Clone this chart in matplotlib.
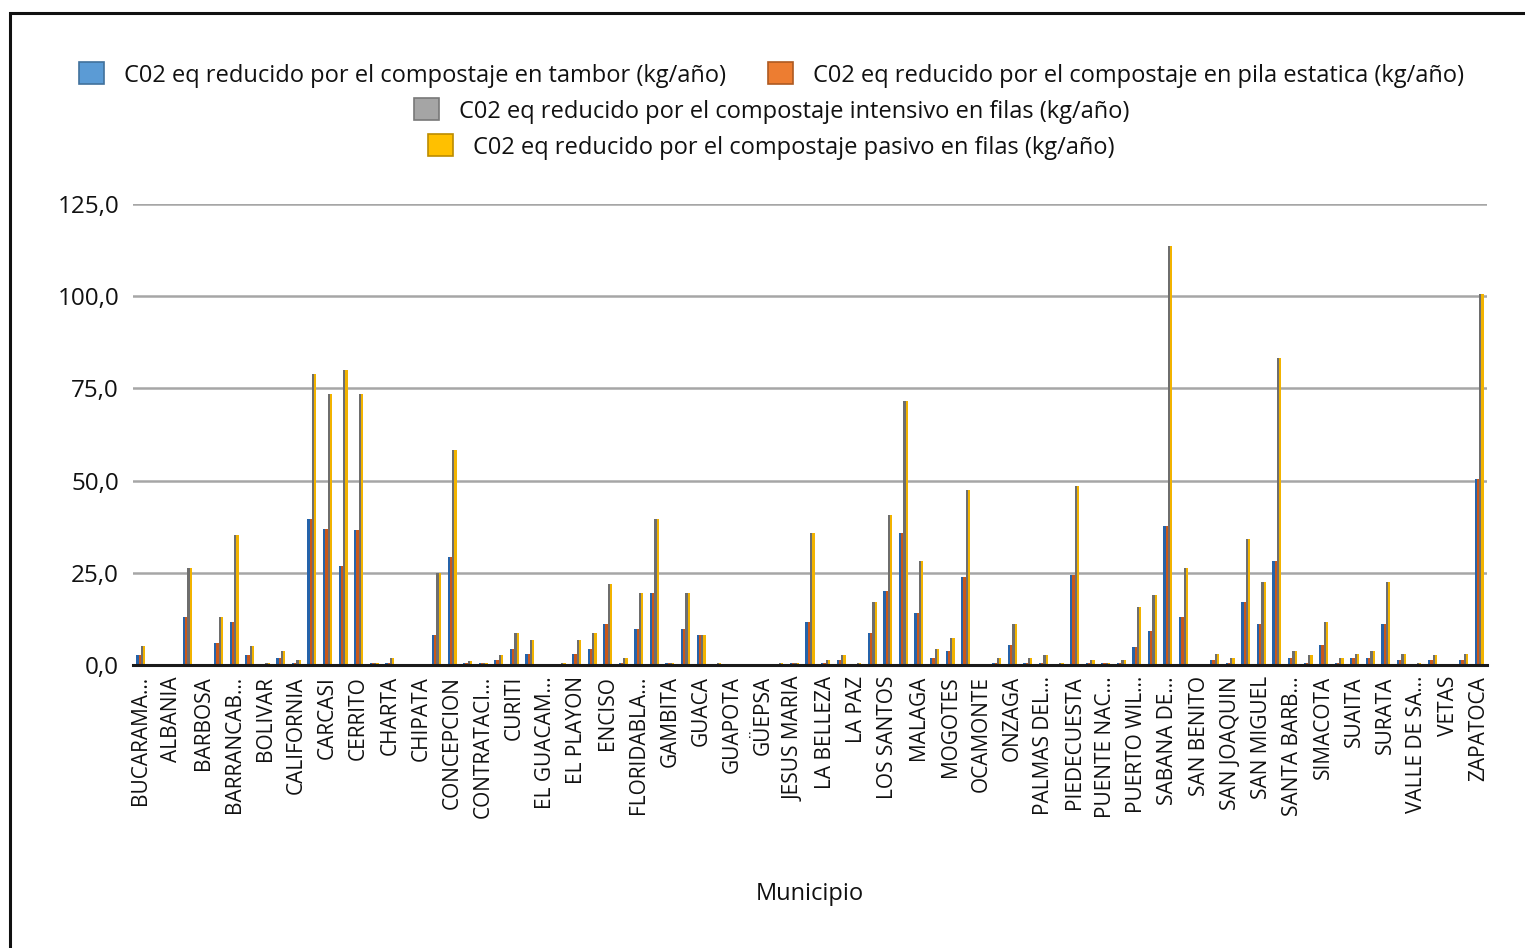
import matplotlib
matplotlib.use("Agg")
import matplotlib.pyplot as plt
from matplotlib.patches import Patch, Rectangle
from matplotlib.ticker import FuncFormatter, MultipleLocator
import numpy as np

# Municipios de Santander (orden del eje)
municipios = [
    "BUCARAMANGA", "AGUADA", "ALBANIA", "ARATOCA", "BARBOSA", "BARICHARA",
    "BARRANCABERMEJA", "BETULIA", "BOLIVAR", "CABRERA", "CALIFORNIA",
    "CAPITANEJO", "CARCASI", "CEPITA", "CERRITO", "CHARALA", "CHARTA", "CHIMA",
    "CHIPATA", "CIMITARRA", "CONCEPCION", "CONFINES", "CONTRATACION",
    "COROMORO", "CURITI", "EL CARMEN DE CHUCURI", "EL GUACAMAYO", "EL PEÑON",
    "EL PLAYON", "ENCINO", "ENCISO", "FLORIAN", "FLORIDABLANCA", "GALAN",
    "GAMBITA", "GIRON", "GUACA", "GUADALUPE", "GUAPOTA", "GUAVATA", "GÜEPSA",
    "HATO", "JESUS MARIA", "JORDAN", "LA BELLEZA", "LANDAZURI", "LA PAZ",
    "LEBRIJA", "LOS SANTOS", "MACARAVITA", "MALAGA", "MATANZA", "MOGOTES",
    "MOLAGAVITA", "OCAMONTE", "OIBA", "ONZAGA", "PALMAR", "PALMAS DEL SOCORRO",
    "PARAMO", "PIEDECUESTA", "PINCHOTE", "PUENTE NACIONAL", "PUERTO PARRA",
    "PUERTO WILCHES", "RIONEGRO", "SABANA DE TORRES", "SAN ANDRES",
    "SAN BENITO", "SAN GIL", "SAN JOAQUIN", "SAN JOSE DE MIRANDA", "SAN MIGUEL",
    "SAN VICENTE DE CHUCURI", "SANTA BARBARA", "SANTA HELENA DEL OPON",
    "SIMACOTA", "SOCORRO", "SUAITA", "SUCRE", "SURATA", "TONA",
    "VALLE DE SAN JOSE", "VELEZ", "VETAS", "VILLANUEVA", "ZAPATOCA",
]

# Etiquetas visibles del eje (una de cada dos categorias)
etiquetas_eje = [
    "BUCARAMA...", "ALBANIA", "BARBOSA", "BARRANCAB...", "BOLIVAR",
    "CALIFORNIA", "CARCASI", "CERRITO", "CHARTA", "CHIPATA", "CONCEPCION",
    "CONTRATACI...", "CURITI", "EL GUACAM...", "EL PLAYON", "ENCISO",
    "FLORIDABLA...", "GAMBITA", "GUACA", "GUAPOTA", "GÜEPSA", "JESUS MARIA",
    "LA BELLEZA", "LA PAZ", "LOS SANTOS", "MALAGA", "MOGOTES", "OCAMONTE",
    "ONZAGA", "PALMAS DEL...", "PIEDECUESTA", "PUENTE NAC...", "PUERTO WIL...",
    "SABANA DE...", "SAN BENITO", "SAN JOAQUIN", "SAN MIGUEL", "SANTA BARB...",
    "SIMACOTA", "SUAITA", "SURATA", "VALLE DE SA...", "VETAS", "ZAPATOCA",
]

# CO2 eq reducido (kg/año) por tipo de compostaje
tambor = [
    2.6, 0, 0, 12.9, 0, 6.1, 11.6, 2.6, 0, 1.9, 0.6, 39.5, 37.0, 26.8, 36.5,
    0.6, 0.6, 0, 0, 8.0, 29.3, 0.6, 0.6, 1.3, 4.3, 3.1, 0, 0, 3.1, 4.3, 11.0,
    0.6, 9.8, 19.6, 0.6, 9.8, 8.0, 0, 0, 0, 0, 0, 0.6, 11.6, 0.6, 1.3, 0, 8.6,
    20.1, 35.9, 14.0, 1.9, 3.7, 23.8, 0, 0.6, 5.5, 0.6, 0.6, 0, 24.4, 0.6, 0.6,
    0.6, 5.0, 9.2, 37.7, 12.9, 0, 1.3, 0.6, 17.1, 11.0, 28.2, 1.9, 0.6, 5.5,
    0.6, 1.9, 1.9, 11.0, 1.3, 0, 1.3, 0, 1.3, 50.4,
]
pila_estatica = [
    2.6, 0, 0, 12.9, 0, 6.1, 11.6, 2.6, 0, 1.9, 0.6, 39.5, 37.0, 26.8, 36.5,
    0.6, 0.6, 0, 0, 8.0, 29.3, 0.6, 0.6, 1.3, 4.3, 3.1, 0, 0, 3.1, 4.3, 11.0,
    0.6, 9.8, 19.6, 0.6, 9.8, 8.0, 0, 0, 0, 0, 0, 0.6, 11.6, 0.6, 1.3, 0, 8.6,
    20.1, 35.9, 14.0, 1.9, 3.7, 23.8, 0, 0.6, 5.5, 0.6, 0.6, 0, 24.4, 0.6, 0.6,
    0.6, 5.0, 9.2, 37.7, 12.9, 0, 1.3, 0.6, 17.1, 11.0, 28.2, 1.9, 0.6, 5.5,
    0.6, 1.9, 1.9, 11.0, 1.3, 0, 1.3, 0, 1.3, 50.4,
]
intensivo_filas = [
    5.1, 0, 0, 26.3, 0, 12.9, 35.3, 5.1, 0.6, 3.8, 1.3, 78.9, 73.4, 80.1, 73.4,
    0.6, 1.9, 0, 0, 25.0, 58.3, 1.2, 0.6, 2.6, 8.6, 6.8, 0, 0.6, 6.8, 8.6, 22.0,
    1.9, 19.6, 39.5, 0.6, 19.6, 8.0, 0.6, 0, 0, 0, 0.6, 0.6, 35.9, 1.3, 2.6,
    0.6, 17.1, 40.7, 71.6, 28.1, 4.3, 7.4, 47.4, 0, 1.9, 11.0, 1.9, 2.6, 0.6,
    48.6, 1.3, 0.6, 1.3, 15.8, 18.9, 113.6, 26.3, 0, 3.1, 1.9, 34.1, 22.6,
    83.3, 3.8, 2.6, 11.7, 1.9, 3.1, 3.8, 22.6, 3.1, 0.6, 2.6, 0, 3.1, 100.7,
]
pasivo_filas = [
    5.1, 0, 0, 26.3, 0, 12.9, 35.3, 5.1, 0.6, 3.8, 1.3, 78.9, 73.4, 80.1, 73.4,
    0.6, 1.9, 0, 0, 25.0, 58.3, 1.2, 0.6, 2.6, 8.6, 6.8, 0, 0.6, 6.8, 8.6, 22.0,
    1.9, 19.6, 39.5, 0.6, 19.6, 8.0, 0.6, 0, 0, 0, 0.6, 0.6, 35.9, 1.3, 2.6,
    0.6, 17.1, 40.7, 71.6, 28.1, 4.3, 7.4, 47.4, 0, 1.9, 11.0, 1.9, 2.6, 0.6,
    48.6, 1.3, 0.6, 1.3, 15.8, 18.9, 113.6, 26.3, 0, 3.1, 1.9, 34.1, 22.6,
    83.3, 3.8, 2.6, 11.7, 1.9, 3.1, 3.8, 22.6, 3.1, 0.6, 2.6, 0, 3.1, 100.7,
]

series_nombres = [
    "C02 eq reducido por el compostaje en tambor (kg/año)",
    "C02 eq reducido por el compostaje en pila estatica (kg/año)",
    "C02 eq reducido por el compostaje intensivo en filas (kg/año)",
    "C02 eq reducido por el compostaje pasivo en filas (kg/año)",
]
colores_barra = ["#2563AA", "#C9581A", "#6E6E6E", "#F2B300"]
colores_leyenda = ["#5B9BD5", "#ED7D31", "#A5A5A5", "#FFC000"]
bordes_leyenda = ["#41719C", "#AE5A21", "#787878", "#BC8C00"]

plt.rcParams["font.family"] = ["Open Sans", "DejaVu Sans"]

W, H = 1525, 948
fig = plt.figure(figsize=(W / 100, H / 100), dpi=100)
ax = fig.add_axes([133 / W, 1 - 665 / H, (1487 - 133) / W, (665 - 204) / H])

x = np.arange(len(municipios))
ancho = 0.145
valores = [tambor, pila_estatica, intensivo_filas, pasivo_filas]
for k, (vals, col) in enumerate(zip(valores, colores_barra)):
    ax.bar(x + (k - 1.5) * ancho, vals, width=ancho, color=col,
           linewidth=0, zorder=3)

ax.set_xlim(-0.5, len(municipios) - 0.5)
ax.set_ylim(0, 125)
ax.yaxis.set_major_locator(MultipleLocator(25))
ax.yaxis.set_major_formatter(
    FuncFormatter(lambda v, _: f"{v:.1f}".replace(".", ",")))
ax.grid(axis="y", color="#A6A6A6", linewidth=1.8, zorder=0)
ax.set_axisbelow(True)

for s in ("top", "right", "left"):
    ax.spines[s].set_visible(False)
ax.spines["bottom"].set_color("#1A1A1A")
ax.spines["bottom"].set_linewidth(2.2)
ax.spines["bottom"].set_zorder(4)

ax.set_xticks(x[::2])
ax.set_xticklabels(etiquetas_eje, rotation=90, fontsize=15,
                   color="#111111", va="top", ha="center")
ax.tick_params(axis="x", length=0, pad=8)
ax.tick_params(axis="y", length=0, pad=10, labelsize=17.5,
               labelcolor="#111111")

fig.text(810 / W, 1 - 894 / H, "Municipio", ha="center", va="center",
         fontsize=17, color="#111111")

# Leyenda en tres filas centradas
handles = [Patch(facecolor=c, edgecolor=e, linewidth=1.2, label=n)
           for c, e, n in zip(colores_leyenda, bordes_leyenda, series_nombres)]
filas = [(handles[0:2], 75), (handles[2:3], 111), (handles[3:4], 147)]
for hs, yy in filas:
    fig.legend(handles=hs, loc="center", bbox_to_anchor=(0.506, 1 - yy / H),
               ncol=len(hs), frameon=False, fontsize=17,
               handlelength=1.05, handleheight=1.05, handletextpad=0.85,
               columnspacing=1.8, labelcolor="#111111")

# Marco exterior del grafico
fig.add_artist(Rectangle((10 / W, -0.1), 1.2, 1 - 13 / H + 0.1,
                         transform=fig.transFigure, fill=False,
                         edgecolor="#111111", linewidth=2.2))

fig.savefig("out.png", dpi=100, facecolor="white")
